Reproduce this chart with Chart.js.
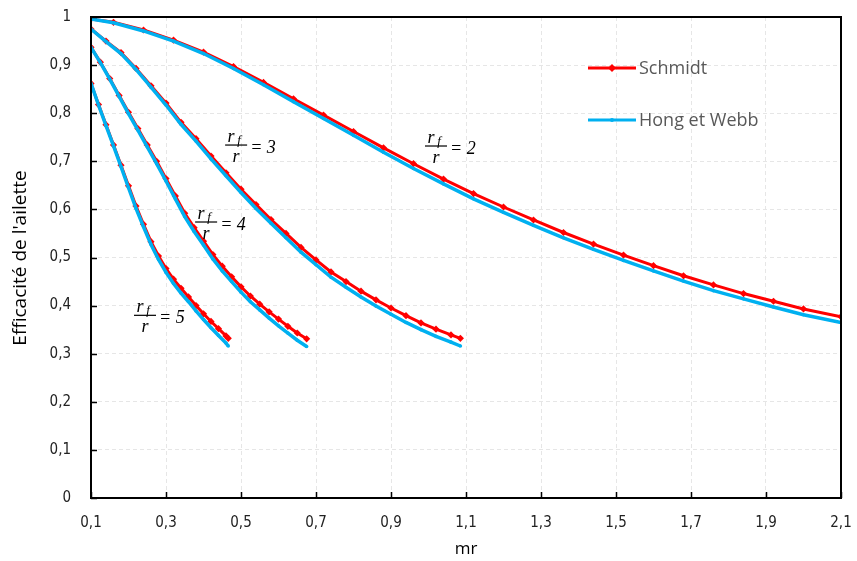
<!DOCTYPE html>
<html>
<head>
<meta charset="utf-8">
<script src="https://cdn.jsdelivr.net/npm/chart.js@4.4.1/dist/chart.umd.min.js"></script>
<style>
  html, body { margin: 0; padding: 0; background: #fff; }
</style>
</head>
<body>
<canvas id="chart" width="857" height="561"></canvas>
<script>
// rf/r = 2
const mrRf2 = [0.10, 0.16, 0.24, 0.32, 0.40, 0.48, 0.56, 0.64, 0.72, 0.80, 0.88, 0.96, 1.04, 1.12, 1.20, 1.28, 1.36, 1.44, 1.52, 1.60, 1.68, 1.76, 1.84, 1.92, 2.00, 2.10];
const schmidtRf2 = [0.996, 0.989, 0.973, 0.952, 0.927, 0.897, 0.864, 0.830, 0.796, 0.762, 0.728, 0.695, 0.663, 0.633, 0.605, 0.578, 0.552, 0.528, 0.505, 0.483, 0.462, 0.443, 0.425, 0.409, 0.393, 0.377];
const hongRf2 = [0.996, 0.988, 0.971, 0.950, 0.924, 0.893, 0.859, 0.824, 0.789, 0.754, 0.719, 0.685, 0.653, 0.622, 0.594, 0.567, 0.541, 0.517, 0.494, 0.472, 0.451, 0.431, 0.414, 0.397, 0.381, 0.365];

// rf/r = 3
const mrRf3 = [0.10, 0.14, 0.18, 0.22, 0.26, 0.30, 0.34, 0.38, 0.42, 0.46, 0.50, 0.54, 0.58, 0.62, 0.66, 0.70, 0.74, 0.78, 0.82, 0.86, 0.90, 0.94, 0.98, 1.02, 1.06, 1.085];
const schmidtRf3 = [0.975, 0.950, 0.926, 0.893, 0.857, 0.821, 0.781, 0.747, 0.711, 0.676, 0.642, 0.610, 0.579, 0.550, 0.521, 0.495, 0.470, 0.450, 0.430, 0.412, 0.395, 0.379, 0.364, 0.351, 0.339, 0.332];
const hongRf3 = [0.975, 0.949, 0.924, 0.891, 0.854, 0.817, 0.777, 0.742, 0.705, 0.670, 0.635, 0.602, 0.571, 0.541, 0.511, 0.485, 0.459, 0.438, 0.418, 0.399, 0.382, 0.365, 0.350, 0.336, 0.324, 0.316];

// rf/r = 4
const mrRf4 = [0.100, 0.125, 0.150, 0.175, 0.200, 0.225, 0.250, 0.275, 0.300, 0.325, 0.350, 0.375, 0.400, 0.425, 0.450, 0.475, 0.500, 0.525, 0.550, 0.575, 0.600, 0.625, 0.650, 0.675];
const schmidtRf4 = [0.937, 0.906, 0.872, 0.837, 0.802, 0.768, 0.734, 0.700, 0.664, 0.628, 0.592, 0.562, 0.534, 0.506, 0.482, 0.460, 0.439, 0.420, 0.403, 0.387, 0.372, 0.357, 0.343, 0.331];
const hongRf4 = [0.937, 0.905, 0.871, 0.835, 0.799, 0.765, 0.730, 0.695, 0.659, 0.622, 0.585, 0.554, 0.526, 0.497, 0.472, 0.450, 0.428, 0.408, 0.391, 0.374, 0.358, 0.343, 0.328, 0.315];

// rf/r = 5
const mrRf5 = [0.10, 0.12, 0.14, 0.16, 0.18, 0.20, 0.22, 0.24, 0.26, 0.28, 0.30, 0.32, 0.34, 0.36, 0.38, 0.40, 0.42, 0.44, 0.46, 0.466];
const schmidtRf5 = [0.862, 0.818, 0.776, 0.734, 0.692, 0.649, 0.607, 0.569, 0.533, 0.503, 0.477, 0.455, 0.436, 0.418, 0.400, 0.383, 0.367, 0.352, 0.337, 0.332];
const hongRf5 = [0.862, 0.817, 0.774, 0.732, 0.689, 0.645, 0.602, 0.564, 0.527, 0.496, 0.469, 0.446, 0.426, 0.408, 0.389, 0.371, 0.354, 0.338, 0.322, 0.316];

const seriesNames = ['Schmidt', 'Hong et Webb'];
const ratioLabels = ['2', '3', '4', '5'];
// where each r_f/r label sits, in data units (mr, efficacité)
const ratioLabelPos = [[1.02, 0.732], [0.487, 0.734], [0.407, 0.574], [0.244, 0.380]];

const RED = '#ff0000';
const BLUE = '#00b0f0';
const TICK_FONT = '"DejaVu Sans Condensed", "Liberation Sans Narrow", Roboto, sans-serif';

const pts = (xs, ys) => xs.map((v, i) => ({ x: v, y: ys[i] }));

const redSet = (xs, ys) => ({
  label: seriesNames[0],
  data: pts(xs, ys),
  borderColor: RED,
  backgroundColor: RED,
  borderWidth: 3,
  pointStyle: 'rectRot',
  pointRadius: 3.6,
  pointBorderWidth: 0,
  order: 1,
});
const blueSet = (xs, ys) => ({
  label: seriesNames[1],
  data: pts(xs, ys),
  borderColor: BLUE,
  backgroundColor: BLUE,
  borderWidth: 3.5,
  pointStyle: 'circle',
  pointRadius: 1.8,
  pointBorderWidth: 0,
  order: 0,
});

const fmt = v => String(Math.round(v * 10) / 10).replace('.', ',');

function fraction(ctx, cx, cy, n) {
  ctx.fillStyle = '#000';
  ctx.textBaseline = 'alphabetic';
  ctx.textAlign = 'center';
  ctx.font = 'italic 18px "Liberation Serif"';
  ctx.fillText('r', cx - 5, cy - 3);
  ctx.font = 'italic 13px "Liberation Serif"';
  ctx.fillText('f', cx + 3, cy - 1);
  ctx.fillRect(cx - 11, cy - 0.5, 22, 1.2);
  ctx.font = 'italic 18px "Liberation Serif"';
  ctx.fillText('r', cx, cy + 17);
  ctx.textAlign = 'left';
  ctx.textBaseline = 'middle';
  ctx.font = 'italic 18px "Liberation Serif"';
  ctx.fillText('= ' + n, cx + 14, cy + 3);
}

const overlay = {
  id: 'overlay',
  afterDatasetsDraw(chart) {
    const { ctx, chartArea: a, scales: { x, y } } = chart;
    ctx.save();

    // inward tick marks
    ctx.strokeStyle = '#000';
    ctx.lineWidth = 1.5;
    ctx.beginPath();
    x.ticks.forEach(t => {
      const px = Math.round(x.getPixelForValue(t.value)) + 0.5;
      ctx.moveTo(px, a.bottom);
      ctx.lineTo(px, a.bottom - 6);
    });
    y.ticks.forEach(t => {
      const py = Math.round(y.getPixelForValue(t.value)) + 0.5;
      ctx.moveTo(a.left, py);
      ctx.lineTo(a.left + 6, py);
    });
    ctx.stroke();

    // frame
    ctx.lineWidth = 2;
    ctx.strokeRect(a.left, a.top, a.right - a.left, a.bottom - a.top);

    // legend
    const legend = [[seriesNames[0], RED, 68, 'rectRot'], [seriesNames[1], BLUE, 120, 'circle']];
    legend.forEach(([name, col, ly, shape]) => {
      ctx.strokeStyle = col;
      ctx.fillStyle = col;
      ctx.lineWidth = 3;
      ctx.beginPath();
      ctx.moveTo(588, ly);
      ctx.lineTo(636, ly);
      ctx.stroke();
      ctx.beginPath();
      if (shape === 'rectRot') {
        ctx.moveTo(612, ly - 4); ctx.lineTo(616, ly); ctx.lineTo(612, ly + 4); ctx.lineTo(608, ly);
      } else {
        ctx.arc(612, ly, 2, 0, Math.PI * 2);
      }
      ctx.fill();
      ctx.fillStyle = '#595959';
      ctx.font = '18px "Open Sans"';
      ctx.textAlign = 'left';
      ctx.textBaseline = 'middle';
      ctx.fillText(name, 639, ly + 1);
    });

    // r_f / r labels
    ratioLabels.forEach((n, i) => {
      const [vx, vy] = ratioLabelPos[i];
      fraction(ctx, x.getPixelForValue(vx), y.getPixelForValue(vy), n);
    });

    // axis titles
    ctx.fillStyle = '#000';
    ctx.font = '17px "Open Sans"';
    ctx.textAlign = 'center';
    ctx.textBaseline = 'middle';
    ctx.fillText('mr', (a.left + a.right) / 2, 549);
    ctx.font = '19px "Open Sans"';
    ctx.translate(21, 258);
    ctx.rotate(-Math.PI / 2);
    ctx.fillText("Efficacité de l'ailette", 0, 0);

    ctx.restore();
  }
};

new Chart(document.getElementById('chart').getContext('2d'), {
  type: 'line',
  data: {
    datasets: [
      redSet(mrRf2, schmidtRf2), blueSet(mrRf2, hongRf2),
      redSet(mrRf3, schmidtRf3), blueSet(mrRf3, hongRf3),
      redSet(mrRf4, schmidtRf4), blueSet(mrRf4, hongRf4),
      redSet(mrRf5, schmidtRf5), blueSet(mrRf5, hongRf5),
    ],
  },
  options: {
    responsive: false,
    animation: false,
    layout: { padding: { top: 17, right: 16, left: 0, bottom: 0 } },
    plugins: { legend: { display: false }, tooltip: { enabled: false } },
    elements: { line: { tension: 0 } },
    scales: {
      x: {
        type: 'linear',
        min: 0.1,
        max: 2.1,
        afterFit: s => { s.height = 63; },
        afterBuildTicks: s => {
          s.ticks = [];
          for (let v = 0.1; v <= 2.1001; v += 0.2) s.ticks.push({ value: Math.round(v * 10) / 10 });
        },
        ticks: {
          callback: v => fmt(v),
          color: '#222',
          padding: 0,
          maxRotation: 0,
          font: { family: TICK_FONT, size: 15 },
        },
        grid: { color: '#e6e6e6', lineWidth: 1, drawTicks: true, tickLength: 16, tickColor: 'rgba(0,0,0,0)' },
        border: { display: false, dash: [4, 3] },
      },
      y: {
        min: 0,
        max: 1,
        afterFit: s => { s.width = 91; },
        ticks: {
          stepSize: 0.1,
          callback: v => fmt(v),
          color: '#222',
          padding: 0,
          font: { family: TICK_FONT, size: 15 },
        },
        grid: { color: '#e6e6e6', lineWidth: 1, drawTicks: true, tickLength: 20, tickColor: 'rgba(0,0,0,0)' },
        border: { display: false, dash: [4, 3] },
      },
    },
  },
  plugins: [overlay],
});
</script>
</body>
</html>
